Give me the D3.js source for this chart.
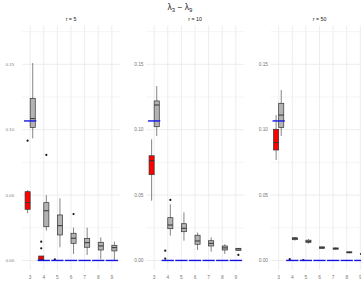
<!DOCTYPE html>
<html>
<head>
<meta charset="utf-8">
<script src="https://cdn.jsdelivr.net/npm/d3@7"></script>
<style>
    body { margin: 0; background: #fff; }
    text { font-family: "Liberation Sans", Arial, sans-serif; }
</style>
</head>
<body>
<div id="viz"></div>
<script>
//Datos
const panels = ['r = 5', 'r = 10', 'r = 50'];
const kValues = ['3', '4', '5', '6', '7', '8', '9'];
const truthValues = [0.1067, 0, 0, 0, 0, 0, 0];
const yTicks = [0, 0.05, 0.10, 0.15];
const yMinor = [0.025, 0.075, 0.125, 0.175];

// [bigote inf, q1, mediana, q3, bigote sup] - caja gris, un valor por k
const greyR5 = [
    [0.0934, 0.1018, 0.1085, 0.1240, 0.1510],
    [0.0228, 0.0258, 0.0380, 0.0442, 0.0500],
    [0.0101, 0.0195, 0.0266, 0.0348, 0.0475],
    [0.0050, 0.0131, 0.0170, 0.0208, 0.0251],
    [0.0042, 0.0101, 0.0136, 0.0167, 0.0251],
    [0.0011, 0.0080, 0.0111, 0.0139, 0.0177],
    [0.0004, 0.0073, 0.0098, 0.0116, 0.0144]
];
const greyR10 = [
    [0.0952, 0.1023, 0.1189, 0.1220, 0.1334],
    [0.0190, 0.0243, 0.0271, 0.0327, 0.0430],
    [0.0151, 0.0220, 0.0246, 0.0281, 0.0368],
    [0.0080, 0.0124, 0.0149, 0.0193, 0.0213],
    [0.0067, 0.0111, 0.0131, 0.0151, 0.0177],
    [0.0050, 0.0080, 0.0096, 0.0111, 0.0124],
    [0.0075, 0.0077, 0.0088, 0.0093, 0.0094]
];
const greyR50 = [
    [0.0952, 0.1018, 0.1112, 0.1202, 0.1304],
    [0.0152, 0.0159, 0.0167, 0.0174, 0.0180],
    [0.0128, 0.0138, 0.0146, 0.0155, 0.0164],
    [0.0088, 0.0092, 0.0098, 0.0104, 0.0108],
    [0.0082, 0.0086, 0.0091, 0.0096, 0.0100],
    [0.0055, 0.0058, 0.0062, 0.0066, 0.0069],
    [0.0044, 0.0047, 0.0050, 0.0053, 0.0056]
];
// caja roja (solo donde se ve)
const redR5 = [
    [0.0361, 0.0391, 0.0442, 0.0526, 0.0539],
    [0, 0, 0.0008, 0.0034, 0.0034],
    [0, 0, 0, 0, 0]
];
const redR10 = [
    [0.0457, 0.0656, 0.0763, 0.0801, 0.0927],
    [0, 0, 0, 0, 0]
];
const redR50 = [
    [0.0768, 0.0845, 0.0901, 0.1003, 0.1112],
    [0, 0, 0, 0, 0],
    [0, 0, 0, 0, 0]
];
// atípicos: [k, grupo, valor]
const outR5 = [['3', 'red', 0.0916], ['4', 'grey', 0.0807], ['4', 'red', 0.0144], ['4', 'red', 0.0093], ['5', 'red', 0.0008], ['6', 'grey', 0.0355]];
const outR10 = [['4', 'grey', 0.0463], ['4', 'red', 0.0075], ['4', 'red', 0.0014], ['9', 'grey', 0.0042]];
const outR50 = [['4', 'red', 0.0010], ['5', 'red', 0.0003]];

const greyData = [greyR5, greyR10, greyR50];
const redData = [redR5, redR10, redR50];
const outData = [outR5, outR10, outR50];

//Colores
const COLOR_GREY = '#b3b3b3', COLOR_RED = '#ff0000', COLOR_LINE = '#333333',
    COLOR_GRID = '#ebebeb', COLOR_TRUTH = '#1414e6', COLOR_AXIS = '#777777';

let width = 361, height = 287;
let panelLeft = [22, 146, 270.5], panelWidth = 98;
let panelTop = 25.5, panelBottom = 270;

let svg = d3.select('#viz')
    .append('svg')
    .attr('width', width)
    .attr('height', height);

//Título
let title = svg.append('text')
    .attr('x', 180)
    .attr('y', 10)
    .attr('text-anchor', 'middle')
    .style('font-size', '8.5px')
    .attr('fill', '#1a1a1a');
title.append('tspan').text('λ');
title.append('tspan').attr('dy', 2).style('font-size', '6px').text('3');
title.append('tspan').attr('dy', -2).text(' − λ');
title.append('tspan').attr('dy', 2).style('font-size', '6px').text('9');

let y = d3.scaleLinear()
    .domain([-0.0073, 0.1797])
    .range([panelBottom, panelTop]);

panels.forEach(function(name, i) {
    let x0 = panelLeft[i];
    let g = svg.append('g');

    let x = d3.scalePoint()
        .domain(kValues)
        .range([x0, x0 + panelWidth])
        .padding(0.6);

    let dodge = d3.scaleBand()
        .domain(['red', 'grey'])
        .range([-x.step() * 0.375, x.step() * 0.375]);
    let bw = dodge.bandwidth();

    //Rejilla
    g.selectAll('.minor')
        .data(yMinor)
        .enter()
        .append('line')
        .attr('x1', x0).attr('x2', x0 + panelWidth)
        .attr('y1', function(d) { return y(d); })
        .attr('y2', function(d) { return y(d); })
        .attr('stroke', COLOR_GRID).attr('stroke-width', 0.5);

    g.selectAll('.major')
        .data(yTicks)
        .enter()
        .append('line')
        .attr('x1', x0).attr('x2', x0 + panelWidth)
        .attr('y1', function(d) { return y(d); })
        .attr('y2', function(d) { return y(d); })
        .attr('stroke', COLOR_GRID).attr('stroke-width', 0.9);

    g.selectAll('.vgrid')
        .data(kValues)
        .enter()
        .append('line')
        .attr('x1', function(d) { return x(d); })
        .attr('x2', function(d) { return x(d); })
        .attr('y1', panelTop).attr('y2', panelBottom)
        .attr('stroke', COLOR_GRID).attr('stroke-width', 0.9);

    //Ejes
    g.selectAll('.ylab')
        .data(yTicks)
        .enter()
        .append('text')
        .attr('x', i == 0 ? x0 - 8 : x0 - 2.5)
        .attr('y', function(d) { return y(d) + 1.6; })
        .attr('text-anchor', 'end')
        .attr('fill', COLOR_AXIS)
        .style('font-size', i == 0 ? '4.2px' : '4.8px')
        .text(function(d) { return d3.format('.2f')(d); });

    g.selectAll('.xlab')
        .data(kValues)
        .enter()
        .append('text')
        .attr('x', function(d) { return x(d); })
        .attr('y', 279)
        .attr('text-anchor', 'middle')
        .attr('fill', COLOR_AXIS)
        .style('font-size', '4.8px')
        .text(function(d) { return d; });

    //Título del panel
    g.append('text')
        .attr('x', x0 + panelWidth / 2)
        .attr('y', 21)
        .attr('text-anchor', 'middle')
        .attr('fill', '#1a1a1a')
        .style('font-size', '5.3px')
        .text(name);

    //Cajas
    let boxes = [];
    greyData[i].forEach(function(s, j) { boxes.push({k: kValues[j], group: 'grey', s: s}); });
    redData[i].forEach(function(s, j) { boxes.push({k: kValues[j], group: 'red', s: s}); });

    let bx = g.selectAll('.box')
        .data(boxes)
        .enter()
        .append('g')
        .attr('transform', function(d) { return 'translate(' + (x(d.k) + dodge(d.group)) + ',0)'; });

    bx.append('line')
        .attr('x1', bw / 2).attr('x2', bw / 2)
        .attr('y1', function(d) { return y(d.s[0]); })
        .attr('y2', function(d) { return y(d.s[4]); })
        .attr('stroke', COLOR_LINE).attr('stroke-width', 0.6);

    bx.append('rect')
        .attr('x', 0)
        .attr('width', bw)
        .attr('y', function(d) { return y(d.s[3]); })
        .attr('height', function(d) { return y(d.s[1]) - y(d.s[3]); })
        .attr('fill', function(d) { return d.group == 'red' ? COLOR_RED : COLOR_GREY; })
        .attr('stroke', COLOR_LINE).attr('stroke-width', 0.7);

    bx.append('line')
        .attr('x1', 0).attr('x2', bw)
        .attr('y1', function(d) { return y(d.s[2]); })
        .attr('y2', function(d) { return y(d.s[2]); })
        .attr('stroke', COLOR_LINE).attr('stroke-width', 1);

    g.selectAll('.out')
        .data(outData[i])
        .enter()
        .append('circle')
        .attr('cx', function(d) { return x(d[0]) + dodge(d[1]) + bw / 2; })
        .attr('cy', function(d) { return y(d[2]); })
        .attr('r', 1.1)
        .attr('fill', '#1a1a1a');

    //Valor verdadero
    g.selectAll('.truth')
        .data(truthValues)
        .enter()
        .append('line')
        .attr('x1', function(d, j) { return x(kValues[j]) - x.step() * 0.45; })
        .attr('x2', function(d, j) { return x(kValues[j]) + x.step() * 0.45; })
        .attr('y1', function(d) { return y(d); })
        .attr('y2', function(d) { return y(d); })
        .attr('stroke', COLOR_TRUTH).attr('stroke-width', 1.4);
});
</script>
</body>
</html>
